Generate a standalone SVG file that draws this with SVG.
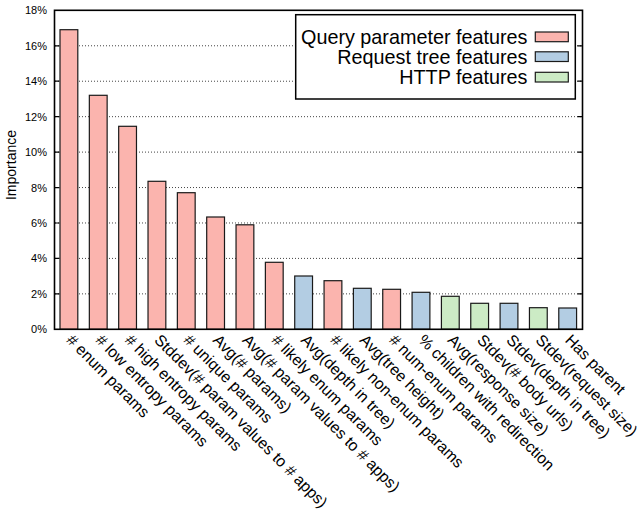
<svg xmlns="http://www.w3.org/2000/svg" width="642" height="517" viewBox="0 0 642 517">
<style>
text{font-family:"Liberation Sans",Arial,sans-serif;fill:#000}
.tick{font-size:11px;text-anchor:end}
.lab{font-size:15.8px}
.leg{font-size:19.8px;text-anchor:end}
.grid{stroke:#444;stroke-width:1;stroke-dasharray:1,2;fill:none}
.tk{stroke:#000;stroke-width:1.2}
.bar{stroke:#1a1a1a;stroke-width:1.2}
.q{fill:#fbb4ae}.r{fill:#b3cde3}.h{fill:#ccebc5}
</style>
<rect width="642" height="517" fill="#fff"/>
<g id="grid">
<line class="grid" x1="55" y1="293.86" x2="582" y2="293.86"/>
<line class="grid" x1="55" y1="258.42" x2="582" y2="258.42"/>
<line class="grid" x1="55" y1="222.98" x2="582" y2="222.98"/>
<line class="grid" x1="55" y1="187.54" x2="582" y2="187.54"/>
<line class="grid" x1="55" y1="152.1" x2="582" y2="152.1"/>
<line class="grid" x1="55" y1="116.66" x2="582" y2="116.66"/>
<line class="grid" x1="55" y1="81.22" x2="582" y2="81.22"/>
<line class="grid" x1="55" y1="45.78" x2="582" y2="45.78"/>
</g>
<g id="ticks">
<path class="tk" d="M54.5 293.86h5M54.5 258.42h5M54.5 222.98h5M54.5 187.54h5M54.5 152.1h5M54.5 116.66h5M54.5 81.22h5M54.5 45.78h5M582.5 293.86h-5M582.5 258.42h-5M582.5 222.98h-5M582.5 187.54h-5M582.5 152.1h-5M582.5 116.66h-5M582.5 81.22h-5M582.5 45.78h-5"/>
</g>
<g id="ytick-labels">
<text class="tick" x="47" y="333.3">0%</text>
<text class="tick" x="47" y="297.9">2%</text>
<text class="tick" x="47" y="262.4">4%</text>
<text class="tick" x="47" y="227">6%</text>
<text class="tick" x="47" y="191.5">8%</text>
<text class="tick" x="47" y="156.1">10%</text>
<text class="tick" x="47" y="120.7">12%</text>
<text class="tick" x="47" y="85.2">14%</text>
<text class="tick" x="47" y="49.8">16%</text>
<text class="tick" x="47" y="14.3">18%</text>
</g>
<text id="ylabel" x="0" y="0" font-size="14" text-anchor="middle" transform="translate(15.5 165) rotate(-90)">Importance</text>
<g id="bars">
<rect class="bar q" x="60" y="29.7" width="17.8" height="299.6"/>
<rect class="bar q" x="89.34" y="95.3" width="17.8" height="234"/>
<rect class="bar q" x="118.68" y="126.3" width="17.8" height="203"/>
<rect class="bar q" x="148.02" y="181.3" width="17.8" height="148"/>
<rect class="bar q" x="177.36" y="192.7" width="17.8" height="136.6"/>
<rect class="bar q" x="206.7" y="217" width="17.8" height="112.3"/>
<rect class="bar q" x="236.04" y="224.8" width="17.8" height="104.5"/>
<rect class="bar q" x="265.38" y="262.3" width="17.8" height="67"/>
<rect class="bar r" x="294.72" y="276" width="17.8" height="53.3"/>
<rect class="bar q" x="324.06" y="280.7" width="17.8" height="48.6"/>
<rect class="bar r" x="353.4" y="288.3" width="17.8" height="41"/>
<rect class="bar q" x="382.74" y="289.3" width="17.8" height="40"/>
<rect class="bar r" x="412.08" y="292.3" width="17.8" height="37"/>
<rect class="bar h" x="441.42" y="296.3" width="17.8" height="33"/>
<rect class="bar h" x="470.76" y="303.3" width="17.8" height="26"/>
<rect class="bar r" x="500.1" y="303.3" width="17.8" height="26"/>
<rect class="bar h" x="529.44" y="307.7" width="17.8" height="21.6"/>
<rect class="bar r" x="558.78" y="308" width="17.8" height="21.3"/>
</g>
<rect id="frame" x="54.5" y="10.3" width="528" height="319" fill="none" stroke="#000" stroke-width="1.6"/>
<g id="legend">
<rect x="295.7" y="14.7" width="279.6" height="84.3" fill="#fff" stroke="#000" stroke-width="1.5"/>
<text class="leg" x="527.5" y="43.5">Query parameter features</text>
<text class="leg" x="527.5" y="63.8">Request tree features</text>
<text class="leg" x="527.5" y="84.1">HTTP features</text>
<rect class="bar q" x="535.3" y="32" width="33" height="9.7"/>
<rect class="bar r" x="535.3" y="51.8" width="33" height="9.7"/>
<rect class="bar h" x="535.3" y="72.3" width="33" height="9.7"/>
</g>
<g id="xlabels">
<text class="lab" transform="translate(65.4 341) rotate(45)"># enum params</text>
<text class="lab" transform="translate(94.74 341) rotate(45)"># low entropy params</text>
<text class="lab" transform="translate(124.08 341) rotate(45)"># high entropy params</text>
<text class="lab" transform="translate(153.42 341) rotate(45)">Stddev(# param values to # apps)</text>
<text class="lab" transform="translate(182.76 341) rotate(45)"># unique params</text>
<text class="lab" transform="translate(212.1 341) rotate(45)">Avg(# params)</text>
<text class="lab" transform="translate(241.44 341) rotate(45)">Avg(# param values to # apps)</text>
<text class="lab" transform="translate(270.78 341) rotate(45)"># likely enum params</text>
<text class="lab" transform="translate(300.12 341) rotate(45)">Avg(depth in tree)</text>
<text class="lab" transform="translate(329.46 341) rotate(45)"># likely non-enum params</text>
<text class="lab" transform="translate(358.8 341) rotate(45)">Avg(tree height)</text>
<text class="lab" transform="translate(388.14 341) rotate(45)"># num-enum params</text>
<text class="lab" transform="translate(417.48 341) rotate(45)">% children with redirection</text>
<text class="lab" transform="translate(446.82 341) rotate(45)">Avg(response size)</text>
<text class="lab" transform="translate(476.16 341) rotate(45)">Stdev(# body urls)</text>
<text class="lab" transform="translate(505.5 341) rotate(45)">Stdev(depth in tree)</text>
<text class="lab" transform="translate(534.84 341) rotate(45)">Stdev(request size)</text>
<text class="lab" transform="translate(564.18 341) rotate(45)">Has parent</text>
</g>
</svg>
